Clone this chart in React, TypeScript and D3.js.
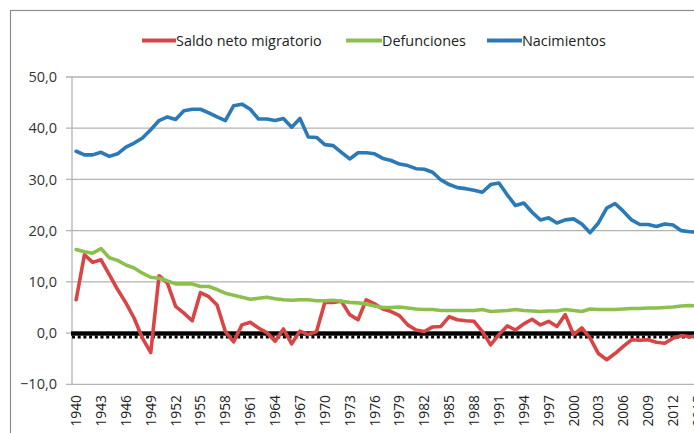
import React from "react";
import * as d3 from "d3";

const years: number[] = d3.range(1940, 2016);

const nacimientos: number[] = [
  35.5, 34.8, 34.8, 35.3, 34.5, 35.0, 36.3, 37.1, 38.1, 39.7,
  41.5, 42.2, 41.7, 43.4, 43.7, 43.7, 43.0, 42.2, 41.5, 44.4,
  44.7, 43.7, 41.8, 41.8, 41.5, 41.9, 40.2, 41.9, 38.3, 38.2,
  36.8, 36.6, 35.3, 34.0, 35.2, 35.2, 35.0, 34.1, 33.7, 33.0,
  32.7, 32.1, 32.0, 31.4, 29.9, 29.0, 28.4, 28.2, 27.9, 27.5,
  29.0, 29.3, 27.0, 24.9, 25.4, 23.6, 22.1, 22.5, 21.5, 22.1,
  22.3, 21.3, 19.6, 21.5, 24.4, 25.3, 23.8, 22.1, 21.2, 21.2,
  20.8, 21.3, 21.1, 20.0, 19.8, 19.7,
];

const defunciones: number[] = [
  16.3, 15.9, 15.6, 16.5, 14.7, 14.2, 13.3, 12.7, 11.7, 10.9,
  10.7, 10.2, 9.6, 9.6, 9.6, 9.1, 9.1, 8.5, 7.8, 7.4,
  7.0, 6.6, 6.8, 7.0, 6.7, 6.5, 6.4, 6.5, 6.5, 6.3,
  6.3, 6.4, 6.2, 6.0, 5.9, 5.7, 5.3, 5.0, 5.0, 5.1,
  4.9, 4.7, 4.6, 4.6, 4.4, 4.4, 4.4, 4.4, 4.4, 4.6,
  4.2, 4.3, 4.4, 4.6, 4.4, 4.3, 4.2, 4.3, 4.3, 4.6,
  4.4, 4.2, 4.7, 4.6, 4.6, 4.6, 4.7, 4.8, 4.8, 4.9,
  4.9, 5.0, 5.1, 5.3, 5.4, 5.3,
];

const saldoMigratorio: number[] = [
  6.5, 15.3, 13.8, 14.3, 11.4, 8.5, 5.9, 2.9, -1.0, -3.8,
  11.2, 9.8, 5.2, 3.9, 2.4, 7.9, 7.1, 5.5, 0.3, -1.7,
  1.6, 2.1, 1.0, 0.1, -1.6, 0.8, -2.1, 0.4, -0.3, 0.3,
  6.0, 6.0, 6.2, 3.6, 2.6, 6.5, 5.7, 4.7, 4.2, 3.4,
  1.6, 0.6, 0.3, 1.2, 1.3, 3.2, 2.6, 2.4, 2.3, 0.3,
  -2.3, -0.3, 1.4, 0.6, 1.8, 2.7, 1.6, 2.3, 1.3, 3.6,
  -0.3, 1.0, -1.0, -4.0, -5.2, -4.0, -2.6, -1.3, -1.4, -1.3,
  -1.8, -2.0, -1.0, -0.5, -0.7, -0.6,
];

const seriesNames: string[] = ["Saldo neto migratorio", "Defunciones", "Nacimientos"];
const seriesColors: string[] = ["#d94545", "#8dbf4f", "#2a7ab8"];
const yTicks: number[] = [-10, 0, 10, 20, 30, 40, 50];
const xTickYears: number[] = d3.range(1940, 2016, 3);

const FONT = "'Open Sans', 'DejaVu Sans', sans-serif";

export default function App() {
  const W = 694;
  const H = 433;
  const plotLeft = 72;
  const step = 8.29;
  const plotRight = plotLeft + years.length * step;
  const x = d3.scalePoint<number>().domain(years).range([plotLeft, plotRight]).padding(0.5);
  const y = d3.scaleLinear().domain([-10, 50]).range([384.3, 77]);

  const seriesData = [saldoMigratorio, defunciones, nacimientos];
  const line = d3
    .line<number>()
    .x((_, i) => x(years[i]) as number)
    .y((d) => y(d));

  const legendItems = [
    { lx0: 142, lx1: 176, tx: 176 },
    { lx0: 346, lx1: 382, tx: 382 },
    { lx0: 487, lx1: 522, tx: 522 },
  ];
  const zeroY = y(0);

  return (
    <div style={{ position: "fixed", left: 0, top: 0, width: W, height: H, background: "#fff" }}>
      <svg width={W} height={H} style={{ display: "block" }}>
        <rect x={0} y={0} width={W} height={H} fill="#fff" />
        {/* outer frame */}
        <rect x={10.5} y={10.5} width={W + 20} height={H + 20} fill="none" stroke="#8c8c8c" strokeWidth={1.2} />
        {/* grid lines */}
        {yTicks.map((t) =>
          t === 0 ? null : (
            <line key={t} x1={plotLeft - 6} x2={plotRight} y1={y(t)} y2={y(t)} stroke="#b3b3b3" strokeWidth={1.3} />
          )
        )}
        <line x1={plotLeft - 6} x2={plotLeft} y1={zeroY} y2={zeroY} stroke="#b3b3b3" strokeWidth={1.3} />
        {/* y axis */}
        <line x1={plotLeft} x2={plotLeft} y1={y(50)} y2={y(-10)} stroke="#b3b3b3" strokeWidth={1.3} />
        {/* zero line */}
        <rect x={plotLeft - 1} y={zeroY - 1.8} width={plotRight - plotLeft} height={4.4} fill="#000" />
        <line
          x1={plotLeft}
          x2={plotRight}
          y1={zeroY + 4}
          y2={zeroY + 4}
          stroke="#000"
          strokeWidth={3}
          strokeDasharray="3,2.7"
        />
        {/* y labels */}
        {yTicks.map((t) => (
          <text
            key={t}
            x={57}
            y={y(t)}
            dy="0.35em"
            textAnchor="end"
            fontFamily={FONT}
            fontSize={14.5}
            fill="#333"
          >
            {d3.format(".1f")(t).replace(".", ",")}
          </text>
        ))}
        {/* x labels */}
        {xTickYears.map((yr) => {
          const cx = x(yr) as number;
          return (
            <text
              key={yr}
              transform={`translate(${cx},395) rotate(-90)`}
              dy="0.36em"
              textAnchor="end"
              fontFamily={FONT}
              fontSize={13.8}
              fill="#222"
            >
              {yr}
            </text>
          );
        })}
        {/* series */}
        {seriesData.map((s, i) => (
          <path
            key={i}
            d={line(s) || ""}
            fill="none"
            stroke={seriesColors[i]}
            strokeWidth={3.6}
            strokeLinejoin="round"
            strokeLinecap="round"
          />
        ))}
        {/* legend */}
        {legendItems.map((li, i) => (
          <g key={i}>
            <line x1={li.lx0} x2={li.lx1} y1={40.5} y2={40.5} stroke={seriesColors[i]} strokeWidth={4} />
            <text x={li.tx} y={40.5} dy="0.35em" fontFamily={FONT} fontSize={14.4} fill="#222">
              {seriesNames[i]}
            </text>
          </g>
        ))}
      </svg>
    </div>
  );
}
